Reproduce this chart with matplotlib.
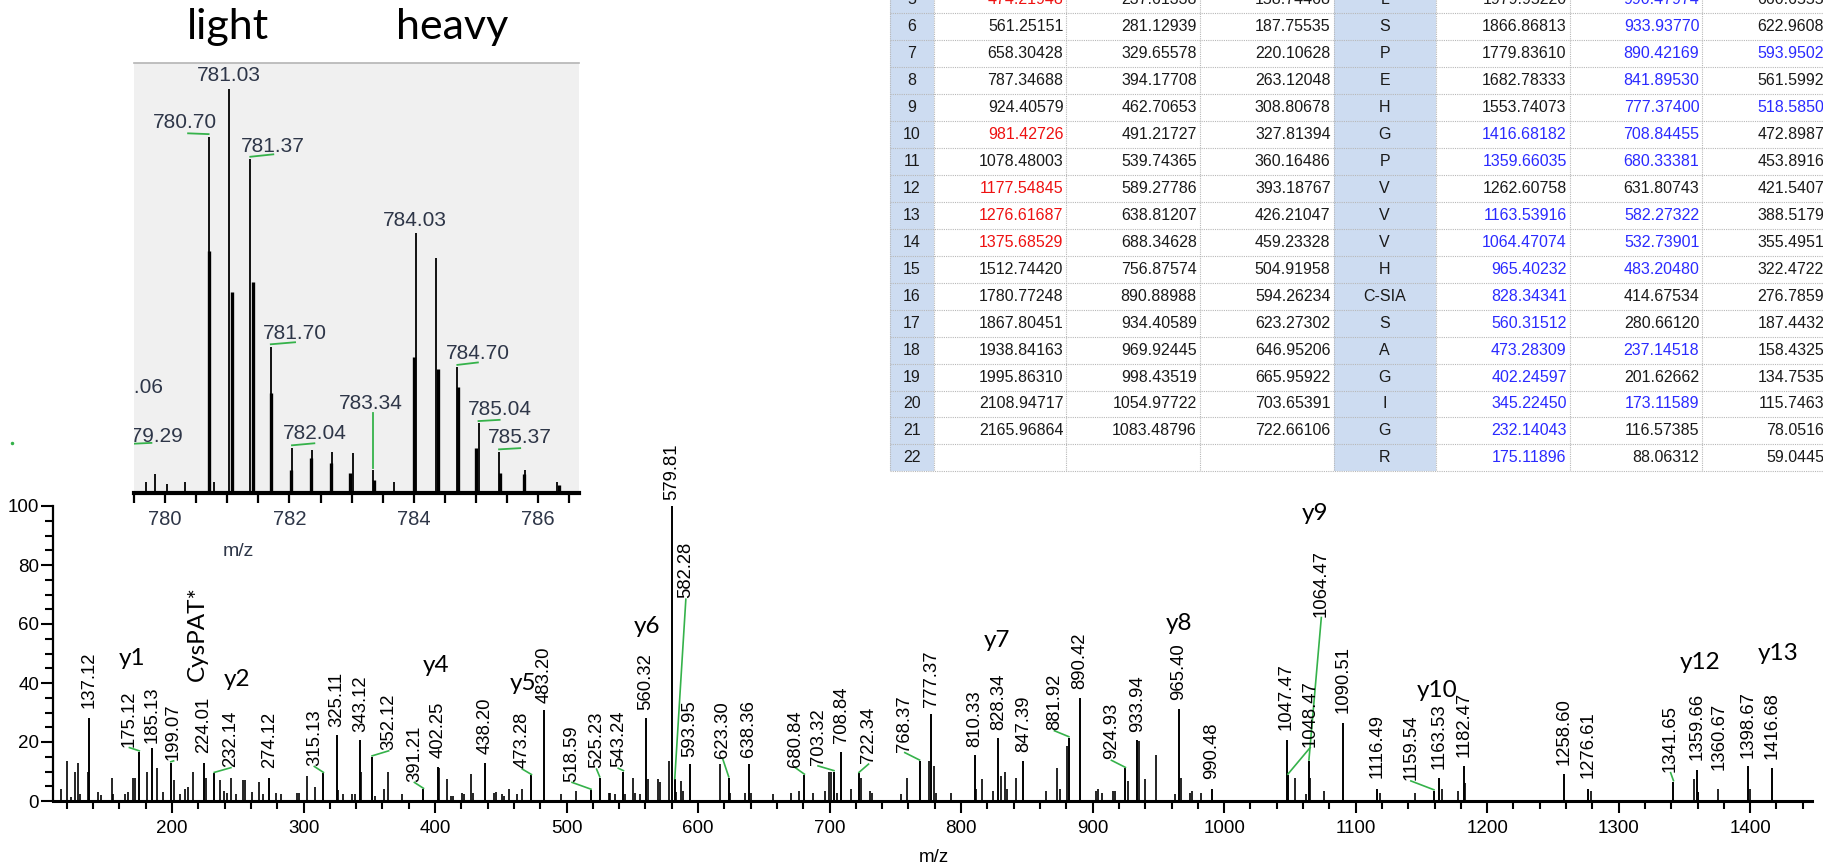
import matplotlib
matplotlib.use("Agg")
import matplotlib.pyplot as plt
from matplotlib import font_manager
from matplotlib.patches import Rectangle

W, H = 1824, 865

# %%
# MS/MS spectrum: annotated peaks (m/z, relative intensity)
label_mz = [137.12, 175.12, 185.13, 199.07, 224.01, 232.14, 274.12, 315.13, 325.11, 343.12,
            352.12, 391.21, 402.25, 438.20, 473.28, 483.20, 518.59, 525.23, 543.24, 560.32,
            579.81, 582.28, 593.95, 623.30, 638.36, 680.84, 703.32, 708.84, 722.34, 768.37,
            777.37, 810.33, 828.34, 847.39, 881.92, 890.42, 924.93, 933.94, 965.40, 990.48,
            1047.47, 1048.47, 1064.47, 1090.51, 1116.49, 1159.54, 1163.53, 1182.47, 1258.60,
            1276.61, 1341.65, 1359.66, 1360.67, 1398.67, 1416.68]
label_int = [28.0, 16.7, 18.1, 13.0, 13.0, 9.4, 7.9, 9.4, 22.4, 20.7,
             15.0, 4.0, 11.6, 13.0, 8.7, 30.7, 3.7, 7.9, 10.0, 28.2,
             100.0, 7.3, 12.4, 7.9, 12.4, 8.8, 10.0, 16.7, 9.4, 13.6,
             29.4, 15.6, 21.2, 13.6, 21.5, 35.0, 11.1, 20.7, 31.2, 4.0,
             20.7, 8.8, 13.6, 26.3, 4.0, 3.5, 7.9, 11.9, 9.2,
             4.0, 6.6, 10.5, 3.2, 11.9, 11.1]
# where each rotated label sits (centre m/z, bottom intensity)
label_x = [137.12, 167.6, 185.13, 201.2, 224.01, 244.8, 274.12, 308.2, 325.11, 343.12,
           364.7, 384.3, 402.25, 438.20, 466.4, 483.20, 504.2, 522.8, 539.3, 560.32,
           579.81, 590.7, 593.95, 618.8, 638.36, 673.9, 691.2, 708.84, 729.6, 757.2,
           777.37, 810.33, 828.34, 847.39, 871.0, 890.42, 914.3, 933.94, 965.40, 990.48,
           1047.47, 1065.4, 1073.9, 1090.51, 1116.49, 1142.0, 1163.53, 1182.47, 1258.60,
           1276.61, 1339.5, 1359.66, 1376.4, 1398.67, 1416.68]
label_y = [31.4, 18.4, 19.8, 13.9, 16.2, 11.6, 11.1, 12.0, 25.2, 23.5,
           17.3, 6.6, 14.5, 15.9, 11.1, 33.3, 6.6, 11.1, 11.4, 30.8,
           102.0, 68.7, 15.0, 14.5, 15.0, 11.6, 12.2, 19.5, 12.8, 16.7,
           32.0, 18.4, 24.1, 16.7, 24.1, 37.9, 14.1, 23.5, 34.2, 7.3,
           24.1, 18.4, 62.5, 29.7, 7.7, 7.1, 10.7, 15.0, 12.2,
           7.7, 9.9, 13.9, 10.5, 14.5, 14.1]
leader_mz = [175.12, 199.07, 232.14, 315.13, 352.12, 391.21, 473.28, 518.59, 525.23, 543.24,
             582.28, 623.30, 680.84, 703.32, 722.34, 768.37, 881.92, 924.93, 1048.47,
             1064.47, 1159.54, 1341.65]

# unlabelled fragment peaks
other_mz = [115.5, 120.0, 123.0, 126.0, 128.4, 129.9, 135.9, 144.0, 146.1, 154.0, 155.2, 164.2,
            166.6, 170.5, 172.0, 181.0, 188.5, 193.0, 201.2, 206.3, 209.6, 212.3, 216.2, 225.8,
            236.3, 239.3, 241.7, 244.8, 248.7, 253.8, 255.6, 260.7, 266.1, 268.8, 278.7, 283.2,
            295.0, 296.5, 302.8, 308.5, 326.0, 329.8, 336.5, 338.9, 344.0, 354.0, 361.1, 364.1,
            375.2, 403.0, 409.2, 412.2, 413.7, 420.6, 422.1, 427.6, 429.1, 444.7, 446.2, 450.7,
            452.2, 456.1, 462.1, 466.0, 495.8, 506.9, 531.9, 533.2, 537.1, 544.6, 550.7, 551.9,
            555.8, 561.8, 569.4, 570.9, 577.8, 583.0, 587.2, 588.4, 617.0, 624.3, 635.7, 639.9,
            657.1, 671.0, 676.7, 687.6, 696.6, 699.6, 701.4, 705.7, 716.6, 723.8, 731.0, 732.2,
            754.0, 759.1, 775.4, 779.6, 780.8, 792.0, 811.5, 816.1, 824.5, 830.3, 833.3, 834.8,
            841.6, 864.4, 873.1, 874.9, 880.9, 902.6, 904.2, 907.2, 915.3, 917.1, 926.8, 935.4,
            939.8, 948.5, 962.4, 966.9, 974.4, 975.6, 982.6, 1054.1, 1062.6, 1065.6, 1075.9,
            1118.2, 1144.8, 1165.3, 1178.0, 1183.4, 1278.6, 1357.2, 1375.9, 1400.1]
other_int = [4.0, 13.6, 1.5, 9.7, 13.0, 2.3, 9.7, 3.2, 2.0, 7.9, 2.3, 2.3,
             3.2, 7.9, 7.9, 9.7, 11.1, 3.2, 7.1, 2.3, 4.0, 4.6, 9.7, 7.9,
             7.1, 3.5, 2.6, 7.9, 2.3, 7.1, 7.1, 3.2, 6.6, 2.3, 2.8, 2.3,
             2.8, 2.6, 8.6, 4.6, 3.7, 2.3, 2.3, 2.3, 10.0, 1.7, 4.0, 9.7,
             2.3, 11.3, 7.3, 1.7, 1.7, 2.8, 2.3, 9.2, 2.8, 2.6, 2.9, 2.3,
             1.7, 4.0, 2.3, 4.0, 2.3, 3.5, 2.8, 2.8, 2.3, 2.3, 7.9, 2.6,
             2.3, 7.3, 7.3, 6.6, 13.6, 3.2, 6.8, 3.5, 12.4, 2.8, 2.8, 2.8,
             2.3, 2.8, 3.5, 2.8, 3.5, 10.0, 10.0, 2.8, 4.0, 7.9, 3.5, 2.8,
             2.3, 7.9, 13.6, 11.9, 2.8, 2.8, 4.0, 7.3, 3.5, 8.6, 9.7, 4.0,
             7.9, 3.5, 11.1, 4.0, 18.6, 3.5, 4.0, 2.8, 3.5, 3.5, 6.8, 20.5,
             7.3, 15.6, 2.3, 7.9, 2.8, 3.5, 2.8, 7.9, 2.3, 7.9, 3.5,
             2.8, 2.8, 4.0, 3.5, 6.0, 3.5, 7.3, 4.0, 4.0]

ion_names = ["y1", "CysPAT*", "y2", "y4", "y5", "y6", "y7", "y8", "y9", "y10", "y12", "y13"]
ion_x = [169.6, 219.2, 249.3, 400.5, 467.3, 560.9, 827.3, 966.0, 1069.2, 1162.3, 1361.7, 1421.2]
ion_y = [48.4, 56.8, 41.2, 45.8, 39.7, 59.1, 54.4, 60.0, 97.5, 37.6, 46.9, 50.1]

# %%
# precursor isotope envelope (light / heavy pair)
iso_mz = [780.70, 781.03, 781.37, 781.70, 782.04, 783.34, 784.03, 784.70, 785.04, 785.37]
iso_int = [88.2, 100.0, 82.6, 36.2, 11.2, 5.7, 64.3, 31.1, 17.2, 10.2]
iso_lab_x = [780.312, 781.02, 781.733, 782.085, 782.41, 783.31, 784.02, 785.03, 785.384, 785.709]
iso_lab_y = [90.3, 102.0, 84.5, 38.0, 13.3, 20.7, 66.1, 33.1, 19.3, 12.3]
iso_lead_x = [780.37, None, 781.74, 782.09, 782.40, 783.34, None, 785.03, 785.38, 785.71]
iso_lead_y = [89.0, None, 83.8, 37.3, 12.3, 19.8, None, 32.3, 18.1, 11.1]

iso_other_mz = [779.69, 779.83, 780.03, 780.32, 780.78, 782.37, 782.69, 783.02, 783.68, 784.36,
                785.79, 786.30]
iso_other_int = [2.8, 4.7, 2.2, 2.7, 2.8, 10.6, 10.2, 9.8, 2.8, 58.2, 5.7, 2.8]
# broader profile sticks beside each centroid
iso_prof_mz = [780.709, 781.083, 781.408, 781.701, 782.021, 782.341, 782.661, 782.981, 783.365,
               784.005, 784.389, 784.715, 785.003, 785.381, 785.765, 786.341]
iso_prof_int = [59.8, 49.8, 52.3, 24.7, 5.7, 8.6, 7.4, 4.9, 3.2, 33.6, 30.6, 26.2, 11.1, 5.0,
                4.7, 2.0]
cut_text = ["779.06", "779.29"]
cut_x = [779.459, 779.779]
cut_y = [24.7, 12.7]

# %%
# fragment ion table
rows = list(range(5, 23))
b1 = ["474.21948", "561.25151", "658.30428", "787.34688", "924.40579", "981.42726",
      "1078.48003", "1177.54845", "1276.61687", "1375.68529", "1512.74420", "1780.77248",
      "1867.80451", "1938.84163", "1995.86310", "2108.94717", "2165.96864", ""]
b2 = ["237.61338", "281.12939", "329.65578", "394.17708", "462.70653", "491.21727",
      "539.74365", "589.27786", "638.81207", "688.34628", "756.87574", "890.88988",
      "934.40589", "969.92445", "998.43519", "1054.97722", "1083.48796", ""]
b3 = ["158.74468", "187.75535", "220.10628", "263.12048", "308.80678", "327.81394",
      "360.16486", "393.18767", "426.21047", "459.23328", "504.91958", "594.26234",
      "623.27302", "646.95206", "665.95922", "703.65391", "722.66106", ""]
residues = ["L", "S", "P", "E", "H", "G", "P", "V", "V", "V", "H", "C-SIA", "S", "A", "G",
            "I", "G", "R"]
y1 = ["1979.95220", "1866.86813", "1779.83610", "1682.78333", "1553.74073", "1416.68182",
      "1359.66035", "1262.60758", "1163.53916", "1064.47074", "965.40232", "828.34341",
      "560.31512", "473.28309", "402.24597", "345.22450", "232.14043", "175.11896"]
y2 = ["990.47974", "933.93770", "890.42169", "841.89530", "777.37400", "708.84455",
      "680.33381", "631.80743", "582.27322", "532.73901", "483.20480", "414.67534",
      "280.66120", "237.14518", "201.62662", "173.11589", "116.57385", "88.06312"]
y3 = ["660.65558", "622.96089", "593.95022", "561.59929", "518.58509", "472.89879",
      "453.89163", "421.54071", "388.51790", "355.49510", "322.47229", "276.78599",
      "187.44322", "158.43255", "134.75351", "115.74635", "78.05166", "59.04450"]
red_b1 = [5, 10, 12, 13, 14]
blue_y1 = [10, 11, 13, 14, 15, 16, 17, 18, 19, 20, 21, 22]
blue_y2 = [5, 6, 7, 8, 9, 10, 11, 13, 14, 15, 18, 20]
blue_y3 = [7, 9]

# %%
plt.rcParams["font.family"] = ["Liberation Sans", "DejaVu Sans"]
installed = {f.name for f in font_manager.fontManager.ttflist}
table_font = "Liberation Sans Narrow" if "Liberation Sans Narrow" in installed else "Liberation Sans"
table_size = 13 if table_font.endswith("Narrow") else 11.5
label_font = "Lato" if "Lato" in installed else "DejaVu Sans"

fig = plt.figure(figsize=(W / 100, H / 100), dpi=100)
green = "#35b24a"

# overlay in pixel coordinates for the table and captions
ov = fig.add_axes([0, 0, 1, 1])
ov.set_xlim(0, W)
ov.set_ylim(H, 0)
ov.axis("off")

rh = 26.95
top0 = -13.75
bottom = top0 + rh * len(rows)
edges = [890, 934, 1066.5, 1199.8, 1333.6, 1435.8, 1569.7, 1702.3, 1836]
blue_fill = "#cddcf1"
ov.add_patch(Rectangle((edges[0], 0), edges[1] - edges[0], bottom, color=blue_fill, lw=0))
ov.add_patch(Rectangle((edges[4], 0), edges[5] - edges[4], bottom, color=blue_fill, lw=0))
for k in range(len(rows) + 1):
    yy = top0 + k * rh
    ov.plot([edges[0], W], [yy, yy], color="#b8b8b8", lw=0.8, ls=(0, (1, 1)))
for xx in edges[:-1]:
    ov.plot([xx, xx], [0, bottom], color="#b8b8b8", lw=0.8, ls=(0, (1, 1)))

tkw = dict(fontsize=table_size, family=table_font, va="center")
for i, r in enumerate(rows):
    yc = top0 + rh * (i + 0.5)
    ov.text((edges[0] + edges[1]) / 2, yc, str(r), ha="center", color="#1a1a1a", **tkw)
    ov.text(edges[2] - 3, yc, b1[i], ha="right", color="#ee1111" if r in red_b1 else "#1a1a1a", **tkw)
    ov.text(edges[3] - 3, yc, b2[i], ha="right", color="#1a1a1a", **tkw)
    ov.text(edges[4] - 3, yc, b3[i], ha="right", color="#1a1a1a", **tkw)
    ov.text((edges[4] + edges[5]) / 2, yc, residues[i], ha="center", color="#1a1a1a", **tkw)
    ov.text(edges[6] - 3, yc, y1[i], ha="right", color="#2b2bff" if r in blue_y1 else "#1a1a1a", **tkw)
    ov.text(edges[7] - 3, yc, y2[i], ha="right", color="#2b2bff" if r in blue_y2 else "#1a1a1a", **tkw)
    ov.text(edges[8] - 3, yc, y3[i], ha="right", color="#2b2bff" if r in blue_y3 else "#1a1a1a", **tkw)

ov.text(228, 27, "light", fontsize=31, family=label_font, ha="center", va="center")
ov.text(452, 27, "heavy", fontsize=31, family=label_font, ha="center", va="center")
ov.plot([11.7], [443], "o", color=green, ms=1.5)

# %%
# main spectrum
ax = fig.add_axes([53 / W, 1 - 801 / H, (1812 - 53) / W, (801 - 506) / H])
ax.vlines(other_mz, 0, other_int, color="black", lw=1.2)
ax.vlines(label_mz, 0, label_int, color="black", lw=1.4)
for m, h, lx, ly in zip(label_mz, label_int, label_x, label_y):
    ax.text(lx, ly, f"{m:.2f}", rotation=90, ha="center", va="bottom", fontsize=13.3,
            clip_on=False)
    if m in leader_mz:
        ax.plot([lx, m], [ly - 0.3, h + 0.3], color=green, lw=1.2, clip_on=False)
for name, x, y in zip(ion_names, ion_x, ion_y):
    ax.text(x, y, name, ha="center", va="center", fontsize=17.5, family=label_font,
            rotation=90 if name.startswith("Cys") else 0)

ax.set_xlim(109.5, 1447)
ax.set_ylim(0, 100)
ax.set_xticks(range(200, 1401, 100))
ax.set_xticks(range(120, 1441, 20), minor=True)
ax.set_yticks(range(0, 101, 20))
ax.set_yticks(range(0, 101, 5), minor=True)
for s in ("top", "right"):
    ax.spines[s].set_visible(False)
ax.spines["left"].set_linewidth(1.6)
ax.spines["bottom"].set_linewidth(2.2)
ax.tick_params(axis="both", which="major", length=8.5, width=1.5, labelsize=13.5)
ax.tick_params(axis="both", which="minor", length=6, width=1.5)
ax.tick_params(axis="y", pad=1.5)
ax.tick_params(axis="x", pad=5)
fig.text(934 / W, 1 - 857 / H, "m/z", ha="center", va="center", fontsize=13.5)

# %%
# inset: zoom on the precursor isotope clusters
ink = "#2e3648"
axi = fig.add_axes([134 / W, 1 - 493 / H, 445 / W, 430 / H], facecolor="#f0f0f0")
axi.vlines(iso_prof_mz, 0, iso_prof_int, color="black", lw=2.4)
axi.vlines(iso_other_mz, 0, iso_other_int, color="black", lw=1.3)
axi.vlines(iso_mz, 0, iso_int, color="black", lw=1.3)
for m, h, lx, ly, gx, gy in zip(iso_mz, iso_int, iso_lab_x, iso_lab_y, iso_lead_x, iso_lead_y):
    axi.text(lx, ly, f"{m:.2f}", ha="center", va="baseline", fontsize=15, color=ink)
    if gx is not None:
        axi.plot([gx, m], [gy, h + 0.6], color=green, lw=1.3)
for t, x, y in zip(cut_text, cut_x, cut_y):
    txt = axi.text(x, y, t, ha="center", va="baseline", fontsize=15, color=ink)
    txt.set_clip_on(True)
    txt.set_clip_box(axi.bbox)
axi.plot([779.50, 779.78], [12.2, 12.4], color=green, lw=1.3)

axi.set_xlim(779.536, 786.656)
axi.set_ylim(0, 106.4)
axi.set_yticks([])
axi.set_xticks([780, 782, 784, 786])
axi.set_xticks([x / 2 for x in range(1559, 1574)], minor=True)
for s in ("left", "right"):
    axi.spines[s].set_visible(False)
axi.spines["top"].set_color("#b4b4b4")
axi.spines["top"].set_linewidth(1.2)
axi.spines["bottom"].set_linewidth(3)
axi.tick_params(axis="x", which="both", length=7, width=1.6, labelsize=14.5,
                labelcolor=ink, pad=5)
fig.text(238 / W, 1 - 552 / H, "m/z", ha="center", va="center", fontsize=14, color=ink)

fig.savefig("out.png", dpi=100)
